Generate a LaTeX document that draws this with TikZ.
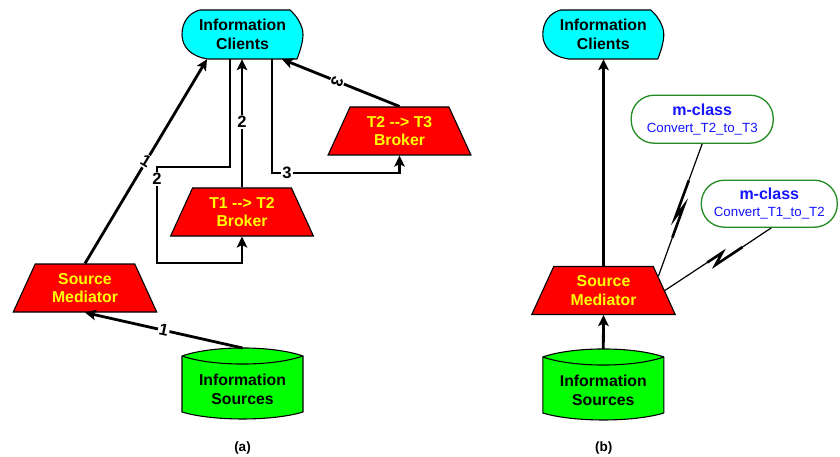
\documentclass[tikz,border=0pt]{standalone}
\usepackage{fontspec}
\setmainfont{Liberation Sans}
\usetikzlibrary{arrows.meta,shapes.geometric,calc}
\definecolor{clientcyan}{RGB}{0,255,255}
\definecolor{sourcegreen}{RGB}{0,255,0}
\definecolor{brokerred}{RGB}{255,0,0}
\definecolor{brokertext}{RGB}{255,255,0}
\definecolor{mgreen}{RGB}{34,139,34}
\definecolor{mblue}{RGB}{20,20,255}
\newcommand\clientoutline[2]{%
  \draw[outline, fill=clientcyan, shift={(#1,#2)}]
    (-42.5,-24.5) -- (47.5,-24.5)
    .. controls (55,-18) and (60.5,-8) .. (60.5,0)
    .. controls (60.5,8) and (57,18) .. (54.5,24.5)
    -- (-34.5,24.5)
    .. controls (-52,22) and (-60.5,12) .. (-60.5,0)
    .. controls (-60.5,-13) and (-53,-22) .. (-42.5,-24.5) -- cycle;}
\newcommand\sourceoutline[2]{%
  \draw[outline, fill=sourcegreen, shift={(#1,#2)}]
    (-60.5,-28) .. controls (-30,-38.7) and (30,-38.7) .. (60.5,-28)
    -- (60.5,28) .. controls (30,37.3) and (-30,37.3) .. (-60.5,28) -- cycle;
  \draw[outline, shift={(#1,#2)}]
    (-60.5,-28) .. controls (-30,-17.3) and (30,-17.3) .. (60.5,-28);}
\begin{document}
\begin{tikzpicture}[x=1pt,y=-1pt,
  outline/.style={line width=1.1pt, line join=round},
  bigfont/.style={font=\fontsize{15.8}{18.6}\selectfont\bfseries},
  clienttext/.style={bigfont, minimum width=121pt, minimum height=49pt, inner sep=0pt, align=center},
  sourcetext/.style={bigfont, inner sep=0pt, align=center},
  brokerbox/.style={trapezium, trapezium angle=64, trapezium stretches=true,
    minimum width=144pt, minimum height=48pt, inner sep=0pt, draw, line width=1.1pt,
    fill=brokerred, text=brokertext, bigfont, align=center},
  mclassbox/.style={draw=mgreen, line width=1.3pt, rounded corners=23pt, fill=white,
    text=mblue, inner sep=0pt, align=center, font=\fontsize{13.3}{17}\selectfont},
  conn/.style={line width=2.8pt, -{Stealth[length=11pt,width=10.5pt,inset=2.5pt]}},
  lab/.style={fill=white, inner sep=1.2pt, font=\fontsize{16.5}{16.5}\selectfont\bfseries},
  caption/.style={font=\fontsize{13.5}{13.5}\selectfont\bfseries},
  boltthin/.style={line width=1.2pt, line join=miter},
  boltthick/.style={line width=2.6pt, line join=miter, line cap=butt}]
\useasboundingbox (0,0) rectangle (840,457);
\fill[white] (0,0) rectangle (840,457);

% ---------- (a) ----------
\clientoutline{242.5}{34.5}
\node[clienttext] (ICa) at (242.5,34.5) {Information\\Clients};
\sourceoutline{242.5}{384}
\node[sourcetext] (ISa) at (242.5,389.5) {Information\\Sources};
\coordinate (ISaTop) at (242.5,348);
\node[brokerbox] (SMa) at (85,288) {Source\\Mediator};
\node[brokerbox] (T12) at (242,212) {T1 -{}-> T2\\Broker};
\node[brokerbox] (T23) at (399.5,131) {T2 -{}-> T3\\Broker};
\node[caption] (capA) at (242.5,448.5) {(a)};

\draw[conn] (ISaTop) -- node[lab, rotate=-12, pos=0.5] {1} (SMa.south);
\draw[conn] (SMa.north) -- node[lab, rotate=-31, pos=0.5] {1} ([xshift=-35.5pt]ICa.south);
\draw[conn] ([xshift=-12.5pt]ICa.south) |- (157,167)
  -- node[lab, pos=0.125] {2} (157,263) -| (T12.south);
\draw[conn] (T12.north) -- node[lab, pos=0.51] {2} (T12.north |- ICa.south);
\draw[conn] ([xshift=29.5pt]ICa.south) -- (272,173)
  -- node[lab, pos=0.118] {3} (T23.south |- 0,173) -- (T23.south);
\draw[conn] (T23.north) -- node[lab, rotate=-112, pos=0.53] {3} ([xshift=39.5pt]ICa.south);

% ---------- (b) ----------
\clientoutline{603.3}{34.5}
\node[clienttext] (ICb) at (603.3,34.5) {Information\\Clients};
\sourceoutline{603.3}{385}
\node[sourcetext] (ISb) at (603.3,390.5) {Information\\Sources};
\coordinate (ISbTop) at (603.3,349);
\node[brokerbox] (SMb) at (603.5,290.5) {Source\\Mediator};
\node[caption] (capB) at (603.8,448.5) {(b)};

\draw[conn] (ISbTop) -- (SMb.south);
\draw[conn] (SMb.north) -- (SMb.north |- ICb.south);

\node[mclassbox, minimum width=142pt, minimum height=48pt] (m1) at (702.2,119.2)
  {{\fontsize{16}{17}\selectfont\bfseries m-class}\\Convert\_T2\_to\_T3};
\node[mclassbox, minimum width=136pt, minimum height=47pt] (m2) at (769.3,203.7)
  {{\fontsize{16}{17}\selectfont\bfseries m-class}\\Convert\_T1\_to\_T2};

% lightning links
\coordinate (b1A) at (m1.south);
\coordinate (b1P) at (675.2,217.5);
\coordinate (b1Q) at (683.8,206);
\coordinate (b1B) at ($(SMb.top right corner)!0.21!(SMb.bottom right corner)$);
\draw[boltthin] (b1A) -- (b1P) -- (b1Q) -- (b1B);
\draw[boltthick] ($(b1A)!0.5!(b1P)$) -- (b1P) -- (b1Q) -- ($(b1Q)!0.45!(b1B)$);

\coordinate (b2A) at ([xshift=2pt]m2.south);
\coordinate (b2P) at (715.5,265);
\coordinate (b2Q) at (722.2,252.6);
\coordinate (b2B) at (SMb.east);
\draw[boltthin] (b2A) -- (b2P) -- (b2Q) -- (b2B);
\draw[boltthick] ($(b2A)!0.52!(b2P)$) -- (b2P) -- (b2Q) -- ($(b2Q)!0.26!(b2B)$);
\end{tikzpicture}
\end{document}
